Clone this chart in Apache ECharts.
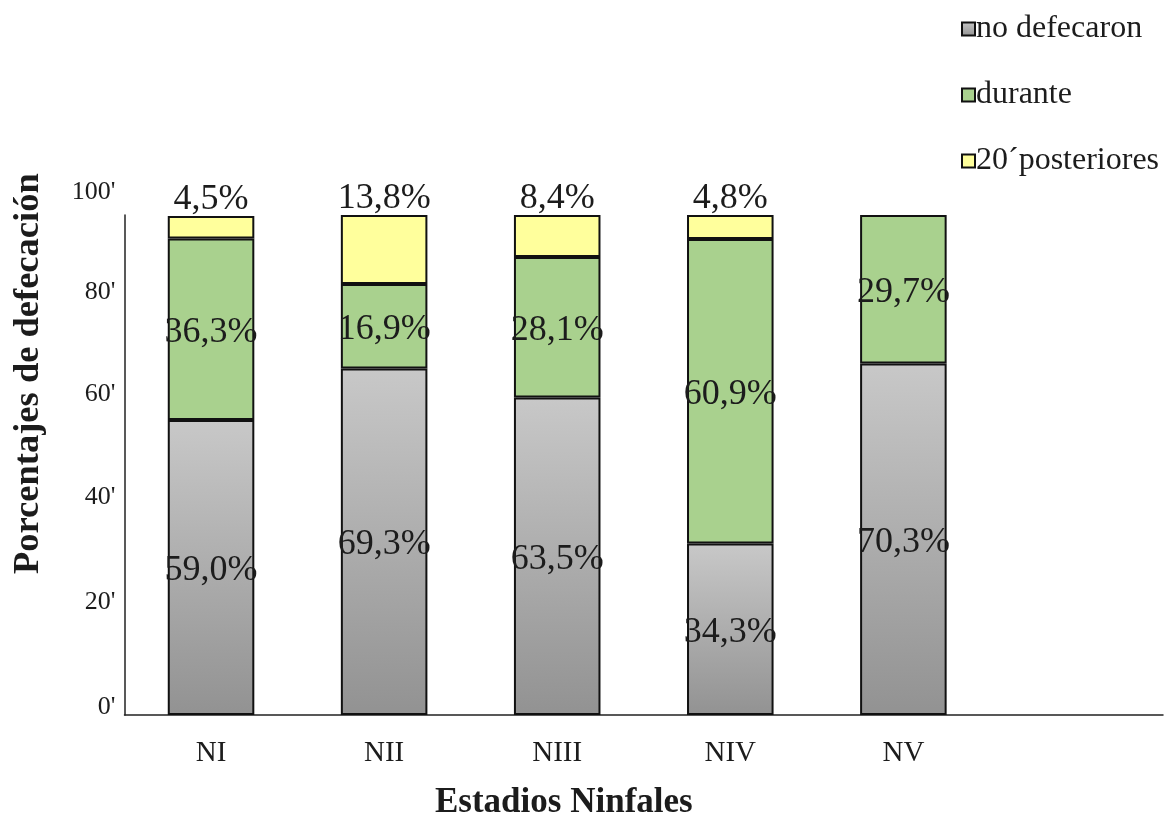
<!DOCTYPE html>
<html>
<head>
<meta charset="utf-8">
<style>
  html, body { margin: 0; padding: 0; background: #ffffff; }
  #chart { width: 1168px; height: 821px; }
</style>
<script src="https://cdn.jsdelivr.net/npm/echarts@6/dist/echarts.min.js"></script>
</head>
<body>
<div id="chart"></div>
<script>
// Nymphal stages (a trailing empty slot keeps the spacing on the right)
const categories = ['NI', 'NII', 'NIII', 'NIV', 'NV', ''];
// Percentage of nymphs per defecation timing
const noDefecaron = [59.0, 69.3, 63.5, 34.3, 70.3, null];
const durante = [36.3, 16.9, 28.1, 60.9, 29.7, null];
const posteriores = [4.5, 13.8, 8.4, 4.8, null, null];
// Y-axis tick labels as they are printed
const yTickLabels = ["0'", "20'", "40'", "60'", "80'", "100'"];

const serif = '"Liberation Serif", "Times New Roman", serif';
const textColor = '#1c1c1c';

const fmt = p => (p.value == null ? '' : p.value.toFixed(1).replace('.', ',') + '%');

const labelStyle = {
  show: true,
  fontFamily: serif,
  fontSize: 36,
  color: textColor,
  formatter: fmt
};

const border = { borderColor: '#111111', borderWidth: 2 };

// tick labels sit a little above their ticks, drifting further up the axis
const yLabelRich = {};
[16, 26, 36, 42, 46, 46].forEach((lh, i) => {
  yLabelRich['t' + i] = { lineHeight: lh, fontFamily: serif, fontSize: 26, color: textColor };
});

const chart = echarts.init(document.getElementById('chart'), null, { renderer: 'canvas' });

chart.setOption({
  animation: false,
  backgroundColor: '#ffffff',
  grid: { left: 124.5, right: 5, top: 215, bottom: 106, containLabel: false },
  legend: {
    orient: 'vertical',
    left: 956,
    top: 8,
    itemWidth: 13,
    itemHeight: 13,
    itemGap: 34,
    icon: 'rect',
    textStyle: { fontFamily: serif, fontSize: 32, color: textColor, padding: [0, 0, 0, -4] },
    data: ['no defecaron', 'durante', '20´posteriores']
  },
  xAxis: {
    type: 'category',
    data: categories,
    axisLine: { lineStyle: { color: '#222222', width: 1.5 } },
    axisTick: { show: false },
    axisLabel: { fontFamily: serif, fontSize: 29, color: textColor, margin: 24 }
  },
  yAxis: {
    type: 'value',
    min: 0,
    max: 100,
    interval: 20,
    splitLine: { show: false },
    axisTick: { show: false },
    axisLine: { show: true, lineStyle: { color: '#222222', width: 1.5 } },
    axisLabel: {
      fontFamily: serif,
      fontSize: 26,
      color: textColor,
      margin: 9,
      verticalAlign: 'bottom',
      rich: yLabelRich,
      formatter: v => {
        const i = Math.round(v / 20);
        return '{t' + i + '|' + yTickLabels[i] + '}';
      }
    }
  },
  graphic: [
    {
      type: 'text',
      left: 435,
      top: 785,
      style: {
        text: 'Estadios Ninfales',
        fontFamily: serif,
        fontWeight: 'bold',
        fontSize: 35,
        fill: textColor
      }
    },
    {
      type: 'text',
      rotation: Math.PI / 2,
      x: 10,
      y: 574,
      style: {
        text: 'Porcentajes de defecación',
        fontFamily: serif,
        fontWeight: 'bold',
        fontSize: 36.5,
        fill: textColor
      }
    }
  ],
  series: [
    {
      name: 'no defecaron',
      type: 'bar',
      stack: 'total',
      barWidth: '50%',
      data: noDefecaron,
      itemStyle: Object.assign({
        color: new echarts.graphic.LinearGradient(0, 0, 0, 1, [
          { offset: 0, color: '#c8c8c8' },
          { offset: 1, color: '#929292' }
        ])
      }, border),
      label: Object.assign({ position: 'inside', offset: [0, 3] }, labelStyle)
    },
    {
      name: 'durante',
      type: 'bar',
      stack: 'total',
      data: durante,
      itemStyle: Object.assign({ color: '#a9d18e' }, border),
      label: Object.assign({ position: 'inside', offset: [0, 3] }, labelStyle)
    },
    {
      name: '20´posteriores',
      type: 'bar',
      stack: 'total',
      data: posteriores,
      itemStyle: Object.assign({ color: '#ffff9c' }, border),
      label: Object.assign({ position: 'top', distance: -2 }, labelStyle)
    }
  ]
});
</script>
</body>
</html>
